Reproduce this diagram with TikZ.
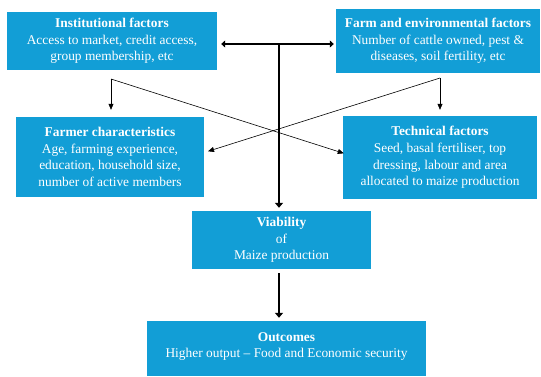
\documentclass[tikz,border=0pt]{standalone}
\usepackage{fontspec}
\setmainfont{Liberation Serif}
\usetikzlibrary{arrows.meta}
\definecolor{boxblue}{RGB}{18,158,214}
\tikzset{
  box/.style={fill=boxblue, draw=none, text=white, align=center, inner sep=0pt,
    font=\fontsize{13.4}{16.7}\selectfont},
  thickarr/.style={line width=2.9pt, -{Triangle[length=5pt,width=8pt]}},
  thinarr/.style={line width=0.6pt, -{Triangle[length=6pt,width=5pt]}},
}
\begin{document}
\begin{tikzpicture}[x=1pt,y=-1pt]
\useasboundingbox (0,0) rectangle (541,376);
\node[box, minimum width=210pt, minimum height=58pt] (inst) at (112,41)
  {\textbf{Institutional factors}\\Access to market, credit access,\\group membership, etc};
\node[box, minimum width=204pt, minimum height=64pt] (farm) at (438,41)
  {\textbf{Farm and environmental factors}\\Number of cattle owned, pest \&\\diseases, soil fertility, etc};
\node[box, minimum width=188pt, minimum height=80pt] (farmer) at (110,157)
  {\textbf{Farmer characteristics}\\Age, farming experience,\\education, household size,\\number of active members};
\node[box, minimum width=194pt, minimum height=83pt] (tech) at (440,157.5)
  {\textbf{Technical factors}\\Seed, basal fertiliser, top\\dressing, labour and area\\allocated to maize production};
\node[box, minimum width=179pt, minimum height=58pt] (via) at (281.5,240)
  {\textbf{Viability}\\of\\Maize production};
\node[box, minimum width=279pt, minimum height=55pt] (out) at (286.5,348.5)
  {\textbf{Outcomes}\\Higher output -- Food and Economic security\\[-9.7pt]};
% thick connectors
\draw[line width=2.6pt, {Triangle[length=4pt,width=7pt]}-{Triangle[length=4pt,width=7pt]},
  shorten <=4pt, shorten >=2pt] ([yshift=-3pt]inst.east) -- ([yshift=-3pt]farm.west);
\coordinate (vtop) at (279,45);
\draw[thickarr, shorten >=3pt] (vtop) -- (vtop |- via.north);
\draw[thickarr, shorten <=4pt, shorten >=3pt] (via.south -| vtop) -- (out.north -| vtop);
% thin connectors
\coordinate (s1) at (111,79);
\coordinate (s2) at (440,78);
\draw[thinarr, shorten >=7pt] (s1) -- (s1 |- farmer.north);
\draw[thinarr, shorten >=-1pt] (s1) -- ([yshift=4.5pt]tech.west);
\draw[thinarr, shorten >=6pt] (s2) -- (s2 |- tech.north);
\draw[thinarr, shorten >=4pt] (s2) -- ([yshift=4.5pt]farmer.east);
\end{tikzpicture}
\end{document}
